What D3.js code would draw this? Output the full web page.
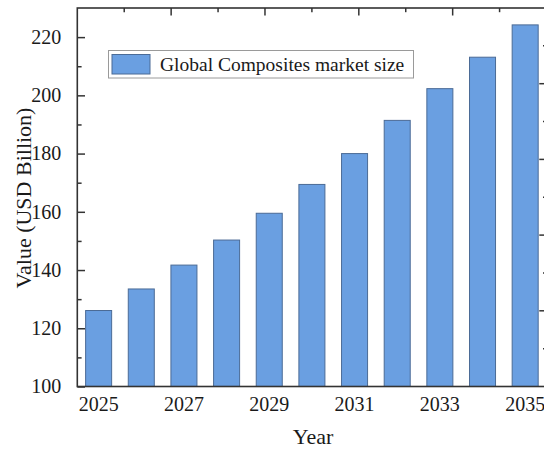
<!DOCTYPE html>
<html>
<head>
<meta charset="utf-8">
<script src="https://cdn.jsdelivr.net/npm/d3@7"></script>
<style>
  html, body { margin: 0; padding: 0; background: #fff; }
  svg { display: block; }
  text { font-family: "Liberation Serif", "Times New Roman", serif; fill: #1a1a1a; }
</style>
</head>
<body>
<svg id="chart" width="544" height="451"></svg>
<script>
// Global composites market size, USD billion
const years = [2025, 2026, 2027, 2028, 2029, 2030, 2031, 2032, 2033, 2034, 2035];
const marketSize = [126.1, 133.5, 141.7, 150.3, 159.5, 169.4, 180.0, 191.4, 202.3, 213.1, 224.2];
const xTickYears = [2025, 2027, 2029, 2031, 2033, 2035];
const yMajorTicks = [100, 120, 140, 160, 180, 200, 220];
const yMinorTicks = [110, 130, 150, 170, 190, 210];
const seriesName = "Global Composites market size";
const xTitle = "Year";
const yTitle = "Value (USD Billion)";

const frame = { left: 77.3, right: 546.5, top: 8, bottom: 386.5 };
const barFill = "#6a9fe1";
const barStroke = "#4b6b96";
const axisColor = "#333";

const svg = d3.select("#chart");

const x = d3.scaleBand()
  .domain(years)
  .range([frame.left, frame.right])
  .paddingInner(0.39)
  .paddingOuter(0.195);

const y = d3.scaleLinear()
  .domain([100, 230])
  .range([frame.bottom, frame.top]);

// bars
svg.append("g")
  .selectAll("rect")
  .data(years.map((yr, i) => ({ yr, v: marketSize[i] })))
  .join("rect")
  .attr("x", d => x(d.yr))
  .attr("width", x.bandwidth())
  .attr("y", d => y(d.v))
  .attr("height", d => y(100) - y(d.v))
  .attr("fill", barFill)
  .attr("stroke", barStroke)
  .attr("stroke-width", 1);

// left axis: major ticks with labels, minor ticks inward
const leftAxis = d3.axisLeft(y)
  .tickValues(yMajorTicks)
  .tickSize(-7.7)
  .tickPadding(16)
  .tickFormat(d3.format("d"));
const gl = svg.append("g")
  .attr("transform", `translate(${frame.left},0)`)
  .call(leftAxis);
gl.select(".domain").remove();
gl.selectAll(".tick line").attr("stroke", axisColor).attr("stroke-width", 1.5);
gl.selectAll(".tick text").attr("font-size", 20).attr("fill", "#1a1a1a");

const glMinor = svg.append("g")
  .attr("transform", `translate(${frame.left},0)`)
  .call(d3.axisLeft(y).tickValues(yMinorTicks).tickSize(-4.3).tickFormat(""));
glMinor.select(".domain").remove();
glMinor.selectAll(".tick line").attr("stroke", axisColor).attr("stroke-width", 1.5);

// bottom axis: labels only
const bottomAxis = d3.axisBottom(x)
  .tickValues(xTickYears)
  .tickSize(0)
  .tickPadding(10);
const gb = svg.append("g")
  .attr("transform", `translate(0,${frame.bottom})`)
  .call(bottomAxis);
gb.select(".domain").remove();
gb.selectAll(".tick text").attr("font-size", 20).attr("fill", "#1a1a1a");

// opposite axes (top and right) carry their own evenly spaced ticks
const topScale = d3.scaleLinear().domain([0, 10]).range([frame.left, frame.right]);
const rightScale = d3.scaleLinear().domain([0, 10]).range([frame.bottom, frame.top]);
const innerSteps = d3.range(1, 10);

const gt = svg.append("g").attr("transform", `translate(0,${frame.top})`);
gt.selectAll("line")
  .data(innerSteps)
  .join("line")
  .attr("x1", d => topScale(d)).attr("x2", d => topScale(d))
  .attr("y1", 0).attr("y2", d => d % 2 === 0 ? 7.5 : 4.2)
  .attr("stroke", axisColor).attr("stroke-width", 1.5);

const gr = svg.append("g").attr("transform", `translate(${frame.right},0)`);
gr.selectAll("line")
  .data(innerSteps)
  .join("line")
  .attr("y1", d => rightScale(d)).attr("y2", d => rightScale(d))
  .attr("x1", 0).attr("x2", d => d % 2 === 0 ? -7.2 : -3.5)
  .attr("stroke", axisColor).attr("stroke-width", 1.5);

// frame
svg.append("rect")
  .attr("x", frame.left).attr("y", frame.top)
  .attr("width", frame.right - frame.left)
  .attr("height", frame.bottom - frame.top)
  .attr("fill", "none")
  .attr("stroke", axisColor)
  .attr("stroke-width", 1.6);

// axis titles
svg.append("text")
  .attr("x", 313).attr("y", 443.5)
  .attr("text-anchor", "middle")
  .attr("font-size", 22)
  .text(xTitle);

svg.append("text")
  .attr("transform", "translate(31,198) rotate(-90)")
  .attr("text-anchor", "middle")
  .attr("font-size", 22)
  .text(yTitle);

// legend
const legend = svg.append("g");
legend.append("rect")
  .attr("x", 108.5).attr("y", 50.5)
  .attr("width", 305).attr("height", 27.5)
  .attr("fill", "#fff")
  .attr("stroke", "#9a9a9a")
  .attr("stroke-width", 1);
legend.append("rect")
  .attr("x", 112).attr("y", 54.5)
  .attr("width", 38).attr("height", 19.5)
  .attr("fill", barFill)
  .attr("stroke", barStroke)
  .attr("stroke-width", 1);
legend.append("text")
  .attr("x", 160).attr("y", 71)
  .attr("font-size", 19.5)
  .text(seriesName);
</script>
</body>
</html>
